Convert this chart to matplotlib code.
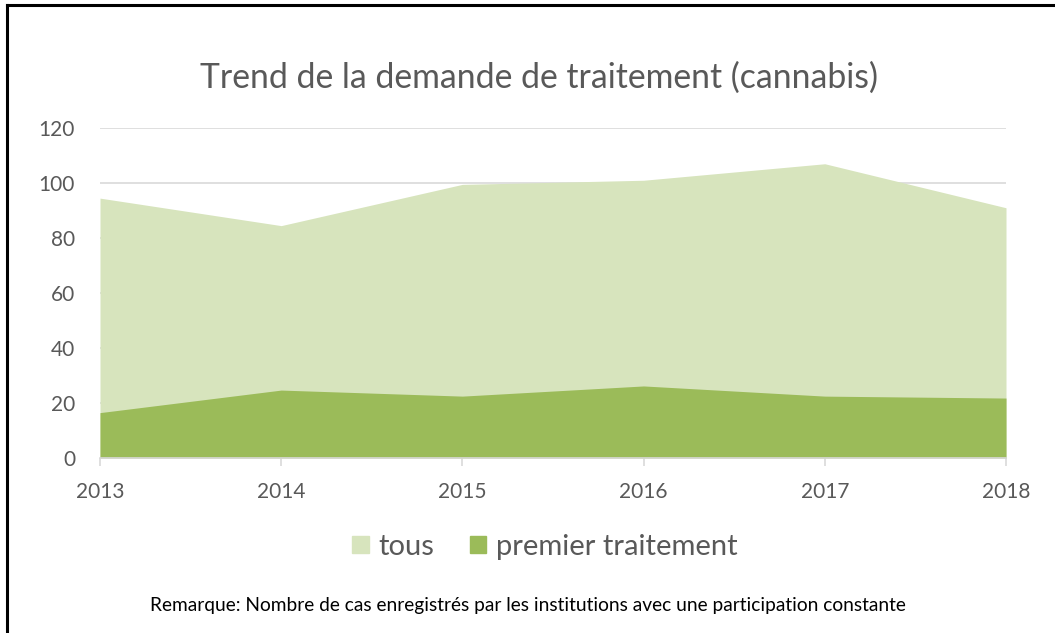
import matplotlib
matplotlib.use("Agg")
import matplotlib.pyplot as plt
from matplotlib.lines import Line2D
from matplotlib.patches import Patch

years = [2013, 2014, 2015, 2016, 2017, 2018]
tous = [94.5, 84.5, 99.5, 101, 107, 91]
premier = [16.5, 24.7, 22.5, 26.2, 22.5, 21.8]
yticks = [0, 20, 40, 60, 80, 100, 120]

plt.rcParams['font.family'] = ['Lato', 'DejaVu Sans']

fig = plt.figure(figsize=(10.55, 6.33), dpi=100)
ax = fig.add_axes([100/1055, 1 - 458/633, (1006-100)/1055, (458-128)/633])

ax.fill_between(years, 0, tous, color='#d7e4bd', linewidth=0, label='tous', zorder=2)
ax.fill_between(years, 0, premier, color='#9bbb59', linewidth=0, label='premier traitement', zorder=3)

ax.set_xlim(years[0], years[-1])
ax.set_ylim(0, 120)
ax.set_yticks(yticks)
ax.set_xticks(years)
ax.grid(axis='y', color='#d9d9d9', linewidth=1.2, zorder=1)
ax.set_axisbelow(True)
for s in ['top', 'right', 'left']:
    ax.spines[s].set_visible(False)
ax.spines['bottom'].set_color('#d9d9d9')
ax.spines['bottom'].set_linewidth(1.2)
ax.spines['bottom'].set_zorder(5)
ax.tick_params(axis='y', length=0, labelsize=15, labelcolor='#595959', pad=18)
ax.tick_params(axis='x', length=6, width=1.2, color='#d9d9d9', labelsize=15, labelcolor='#595959', pad=11)

fig.text(539/1055, 1 - 78/633, 'Trend de la demande de traitement (cannabis)', ha='center', va='center',
         fontsize=24.3, color='#595959')

handles = [Patch(color='#d7e4bd'), Patch(color='#9bbb59')]
fig.legend(handles, ['tous', 'premier traitement'], loc='center', bbox_to_anchor=(545/1055, 1 - 547/633),
           ncol=2, frameon=False, fontsize=21, labelcolor='#595959', handlelength=0.55, handleheight=0.55,
           handletextpad=0.35, columnspacing=1.2)

fig.text(0.5, 1 - 606/633, 'Remarque: Nombre de cas enregistrés par les institutions avec une participation constante',
         ha='center', va='center', fontsize=13.8, color='#000000')

fig.add_artist(Line2D([7/1055, 7/1055], [0, 1 - 5/633], color='black', linewidth=2.2, transform=fig.transFigure))
fig.add_artist(Line2D([7/1055, 1], [1 - 5/633, 1 - 5/633], color='black', linewidth=2.2, transform=fig.transFigure))

fig.savefig('out.png', dpi=100)
